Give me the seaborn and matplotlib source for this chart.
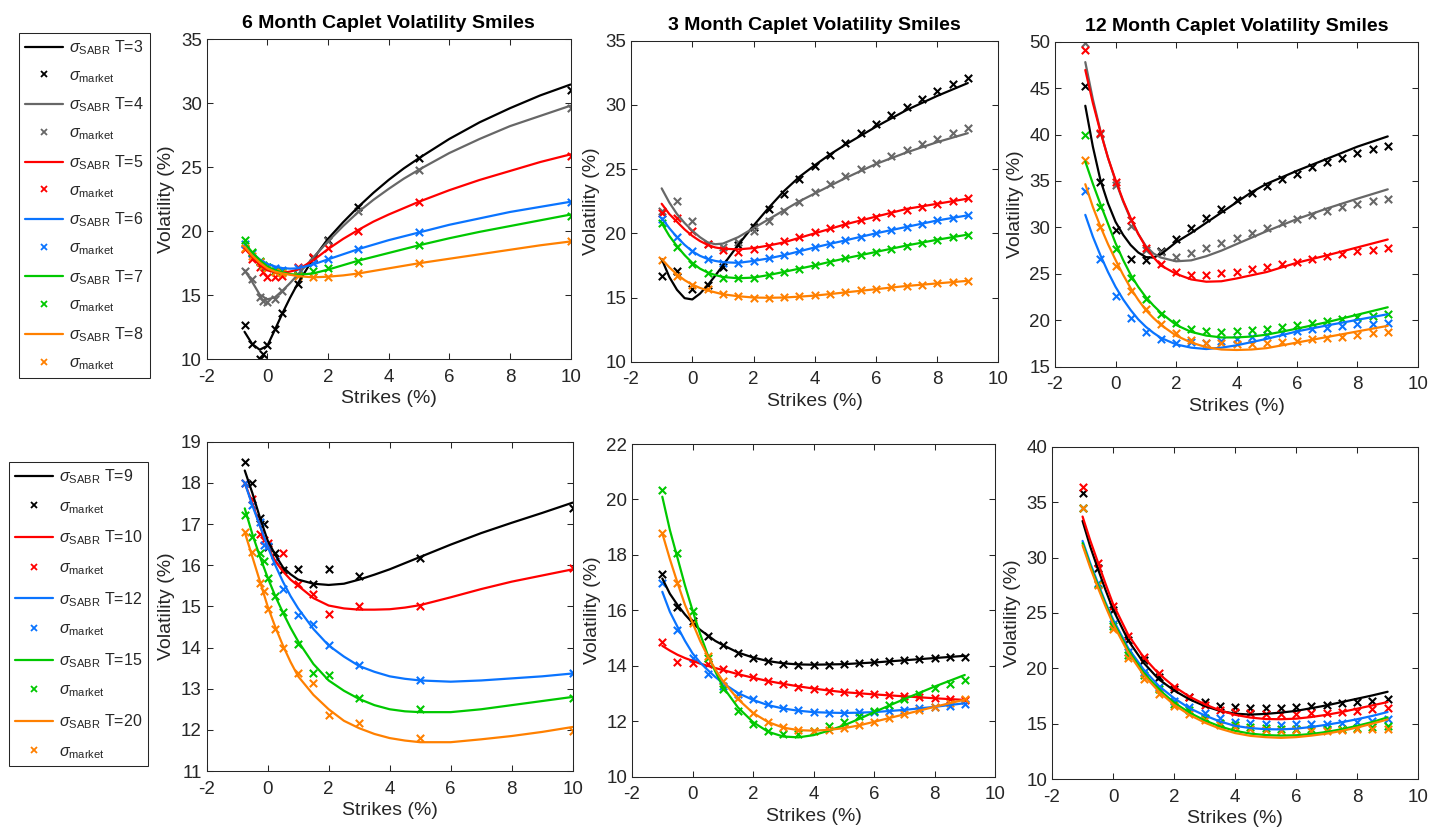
import matplotlib
matplotlib.use("Agg")
import matplotlib.pyplot as plt
from matplotlib.lines import Line2D
import pandas as pd
import seaborn as sns

# ---------------------------------------------------------------- data
# 6 month caplets (top left)
strikes_6m = [-0.75, -0.5, -0.25, -0.125, 0, 0.25, 0.5, 1, 1.5, 2, 3, 5, 10]
mkt_6m_t3 = [12.7, 11.2, 10.0, 10.4, 11.1, 12.4, 13.6, 15.9, 17.9, 19.3, 21.9, 25.7, 31.0]
mkt_6m_t4 = [16.9, 16.3, 14.9, 14.55, 14.5, 14.7, 15.3, 16.6, 18.0, 19.2, 21.6, 24.8, 29.6]
mkt_6m_t5 = [18.6, 17.8, 17.2, 16.8, 16.4, 16.45, 16.5, 17.2, 18.0, 18.7, 20.0, 22.3, 25.9]
mkt_6m_t6 = [19.0, 18.3, 17.6, 17.3, 17.2, 17.1, 17.0, 17.1, 17.5, 17.8, 18.6, 19.9, 22.3]
mkt_6m_t7 = [19.3, 18.4, 17.7, 17.4, 17.2, 16.9, 16.8, 16.6, 16.9, 17.1, 17.7, 18.9, 21.2]
mkt_6m_t8 = [18.7, 18.1, 17.6, 17.3, 17.1, 16.8, 16.7, 16.5, 16.4, 16.4, 16.7, 17.5, 19.2]

grid_6m = [-0.75, -0.5, -0.25, 0, 0.25, 0.5, 0.75, 1, 1.5, 2, 2.5, 3, 3.5, 4, 4.5, 5, 6, 7, 8, 9, 10]
sabr_6m_t3 = [12.15, 11.2, 10.75, 11.05, 12.3, 13.6, 14.8, 15.9, 17.8, 19.4, 20.7, 21.9, 23.0, 24.0, 24.9, 25.7, 27.2, 28.5, 29.6, 30.6, 31.45]
sabr_6m_t4 = [16.95, 16.05, 15.05, 14.68, 14.84, 15.36, 15.95, 16.6, 17.9, 19.2, 20.4, 21.5, 22.45, 23.3, 24.1, 24.8, 26.1, 27.2, 28.2, 29.0, 29.8]
sabr_6m_t5 = [18.7, 18.0, 17.35, 16.95, 16.8, 16.75, 16.85, 17.0, 17.7, 18.6, 19.4, 20.1, 20.75, 21.3, 21.8, 22.3, 23.2, 24.0, 24.7, 25.4, 26.0]
sabr_6m_t6 = [19.0, 18.3, 17.8, 17.45, 17.25, 17.12, 17.08, 17.1, 17.4, 17.8, 18.2, 18.6, 18.95, 19.3, 19.6, 19.9, 20.5, 21.0, 21.5, 21.9, 22.3]
sabr_6m_t7 = [19.1, 18.35, 17.75, 17.25, 16.95, 16.78, 16.65, 16.6, 16.7, 17.0, 17.35, 17.7, 18.0, 18.3, 18.6, 18.9, 19.45, 19.95, 20.4, 20.85, 21.3]
sabr_6m_t8 = [18.8, 18.1, 17.55, 17.1, 16.85, 16.7, 16.6, 16.5, 16.4, 16.45, 16.55, 16.7, 16.9, 17.1, 17.3, 17.5, 17.85, 18.2, 18.55, 18.9, 19.2]

# 3 month caplets (top middle)
strikes_3m = [-1, -0.5, 0, 0.5, 1, 1.5, 2, 2.5, 3, 3.5, 4, 4.5, 5, 5.5, 6, 6.5, 7, 7.5, 8, 8.5, 9]
mkt_3m_t3 = [16.67, 17.06, 15.63, 15.97, 17.4, 19.09, 20.46, 21.86, 23.06, 24.2, 25.24, 26.12, 27.0, 27.78, 28.5, 29.18, 29.86, 30.46, 31.08, 31.62, 32.12]
mkt_3m_t4 = [21.7, 22.54, 20.95, 19.2, 18.96, 19.34, 20.2, 20.93, 21.73, 22.46, 23.19, 23.84, 24.43, 24.98, 25.5, 26.02, 26.51, 26.95, 27.37, 27.78, 28.17]
mkt_3m_t5 = [21.6, 21.2, 20.2, 19.16, 18.7, 18.57, 18.75, 19.03, 19.4, 19.71, 20.07, 20.41, 20.72, 21.03, 21.29, 21.55, 21.81, 22.07, 22.31, 22.51, 22.72]
mkt_3m_t6 = [21.1, 19.7, 18.6, 18.0, 17.7, 17.7, 17.85, 18.05, 18.3, 18.6, 18.9, 19.2, 19.45, 19.75, 20.0, 20.25, 20.5, 20.75, 21.0, 21.2, 21.4]
mkt_3m_t7 = [20.8, 18.9, 17.6, 16.9, 16.55, 16.5, 16.55, 16.75, 17.0, 17.2, 17.5, 17.8, 18.05, 18.3, 18.55, 18.8, 19.0, 19.25, 19.5, 19.7, 19.9]
mkt_3m_t8 = [17.95, 16.7, 16.0, 15.65, 15.3, 15.1, 15.0, 15.0, 15.05, 15.1, 15.2, 15.3, 15.45, 15.55, 15.7, 15.8, 15.9, 16.0, 16.1, 16.2, 16.3]

grid_3m = [-1, -0.75, -0.5, -0.25, 0, 0.25, 0.5, 0.75, 1, 1.5, 2, 2.5, 3, 3.5, 4, 4.5, 5, 6, 7, 8, 9]
sabr_3m_t3 = [18.0, 16.6, 15.6, 14.95, 14.85, 15.3, 15.95, 16.7, 17.5, 19.1, 20.6, 22.0, 23.3, 24.4, 25.3, 26.15, 26.9, 28.3, 29.6, 30.7, 31.7]
sabr_3m_t4 = [23.5, 22.4, 21.5, 20.8, 20.2, 19.7, 19.3, 19.15, 19.2, 19.7, 20.4, 21.1, 21.8, 22.5, 23.1, 23.7, 24.3, 25.4, 26.3, 27.1, 27.8]
sabr_3m_t5 = [22.3, 21.5, 20.9, 20.3, 19.8, 19.4, 19.1, 18.9, 18.8, 18.75, 18.85, 19.05, 19.3, 19.65, 20.0, 20.35, 20.7, 21.3, 21.9, 22.3, 22.7]
sabr_3m_t6 = [21.2, 20.4, 19.7, 19.1, 18.6, 18.25, 18.0, 17.85, 17.75, 17.7, 17.85, 18.05, 18.3, 18.6, 18.9, 19.18, 19.45, 20.0, 20.5, 21.0, 21.4]
sabr_3m_t7 = [20.8, 19.8, 19.0, 18.3, 17.7, 17.25, 16.95, 16.75, 16.6, 16.5, 16.55, 16.75, 17.0, 17.25, 17.5, 17.78, 18.05, 18.55, 19.05, 19.5, 19.9]
sabr_3m_t8 = [18.0, 17.35, 16.8, 16.35, 16.0, 15.75, 15.55, 15.4, 15.25, 15.1, 15.0, 14.98, 15.0, 15.07, 15.15, 15.27, 15.4, 15.65, 15.9, 16.1, 16.3]

# 12 month caplets (top right)
strikes_12m = strikes_3m
mkt_12m_t3 = [45.2, 34.9, 29.7, 26.6, 26.5, 27.5, 28.7, 29.9, 31.0, 32.0, 32.9, 33.7, 34.5, 35.2, 35.8, 36.5, 37.0, 37.5, 38.0, 38.4, 38.8]
mkt_12m_t4 = [49.9, 40.1, 34.6, 30.1, 27.6, 27.4, 26.8, 27.2, 27.75, 28.3, 28.85, 29.4, 29.95, 30.45, 30.9, 31.35, 31.75, 32.15, 32.5, 32.8, 33.1]
mkt_12m_t5 = [49.1, 40.2, 34.9, 30.8, 27.75, 26.06, 25.2, 24.9, 24.9, 25.05, 25.2, 25.48, 25.73, 26.02, 26.31, 26.6, 26.88, 27.14, 27.42, 27.6, 27.82]
mkt_12m_t6 = [33.9, 26.6, 22.6, 20.2, 18.7, 17.95, 17.6, 17.66, 17.6, 17.8, 17.95, 18.23, 18.41, 18.59, 18.84, 19.02, 19.2, 19.38, 19.56, 19.6, 19.74]
mkt_12m_t7 = [39.9, 32.2, 27.7, 24.5, 22.3, 20.7, 19.67, 19.06, 18.84, 18.74, 18.81, 18.95, 19.1, 19.31, 19.53, 19.74, 19.96, 20.14, 20.35, 20.5, 20.64]
mkt_12m_t8 = [37.3, 30.0, 25.8, 23.1, 21.2, 19.6, 18.6, 17.88, 17.59, 17.52, 17.44, 17.44, 17.59, 17.66, 17.8, 17.95, 18.13, 18.23, 18.45, 18.59, 18.74]

grid_12m = [-1, -0.75, -0.5, -0.25, 0, 0.25, 0.5, 0.75, 1, 1.25, 1.5, 2, 2.5, 3, 3.5, 4, 4.5, 5, 6, 7, 8, 9]
sabr_12m_t3 = [43.1, 38.7, 35.1, 32.6, 30.6, 29.2, 28.1, 27.3, 26.8, 26.75, 27.1, 28.4, 29.4, 30.5, 31.6, 32.7, 33.8, 34.7, 36.1, 37.4, 38.7, 39.8]
sabr_12m_t4 = [47.8, 43.8, 40.4, 37.5, 35.0, 32.8, 30.9, 29.3, 28.0, 27.2, 26.75, 26.35, 26.45, 26.9, 27.5, 28.2, 28.9, 29.6, 30.9, 32.05, 33.1, 34.1]
sabr_12m_t5 = [46.95, 43.4, 40.3, 37.5, 35.1, 32.9, 31.0, 29.3, 27.9, 26.8, 25.9, 25.0, 24.4, 24.15, 24.2, 24.5, 24.85, 25.2, 26.2, 27.0, 27.85, 28.7]
sabr_12m_t6 = [31.35, 29.0, 27.0, 25.2, 23.6, 22.25, 21.1, 20.1, 19.3, 18.65, 18.1, 17.4, 17.05, 16.9, 17.05, 17.3, 17.65, 18.0, 18.8, 19.45, 20.05, 20.65]
sabr_12m_t7 = [37.1, 34.7, 32.5, 30.4, 28.3, 26.5, 24.9, 23.6, 22.5, 21.6, 20.8, 19.5, 18.75, 18.35, 18.15, 18.15, 18.25, 18.45, 19.1, 19.8, 20.6, 21.4]
sabr_12m_t8 = [34.65, 32.2, 30.1, 28.2, 26.5, 24.9, 23.45, 22.2, 21.1, 20.25, 19.5, 18.35, 17.6, 17.1, 16.85, 16.8, 16.85, 17.0, 17.6, 18.2, 18.8, 19.4]

# longer maturities, 6 month caplets (bottom left)
strikes_b6m = strikes_6m
mkt_b6m_t9 = [18.51, 18.0, 17.14, 17.0, 16.45, 16.3, 15.88, 15.9, 15.54, 15.9, 15.74, 16.18, 17.38]
mkt_b6m_t10 = [18.0, 17.62, 16.75, 16.6, 16.55, 16.1, 16.3, 15.54, 15.29, 14.81, 15.0, 15.0, 15.94]
mkt_b6m_t12 = [18.0, 17.46, 17.06, 16.49, 16.47, 16.09, 15.41, 14.8, 14.58, 14.06, 13.57, 13.22, 13.39]
mkt_b6m_t15 = [17.22, 16.69, 16.3, 16.11, 15.68, 15.25, 14.87, 14.09, 13.39, 13.33, 12.78, 12.5, 12.78]
mkt_b6m_t20 = [16.81, 16.31, 15.57, 15.38, 14.93, 14.44, 13.98, 13.37, 13.13, 12.36, 12.16, 11.81, 11.98]

grid_b6m = [-0.75, -0.5, -0.25, 0, 0.25, 0.5, 0.75, 1, 1.5, 2, 2.5, 3, 3.5, 4, 4.5, 5, 6, 7, 8, 9, 10]
sabr_b6m_t9 = [18.3, 17.75, 17.15, 16.6, 16.25, 15.95, 15.78, 15.65, 15.55, 15.52, 15.55, 15.65, 15.77, 15.9, 16.05, 16.2, 16.5, 16.78, 17.03, 17.27, 17.52]
sabr_b6m_t10 = [18.0, 17.5, 16.95, 16.45, 16.1, 15.85, 15.65, 15.5, 15.2, 15.02, 14.95, 14.92, 14.92, 14.93, 14.97, 15.03, 15.22, 15.42, 15.6, 15.75, 15.9]
sabr_b6m_t12 = [18.0, 17.45, 16.95, 16.45, 16.0, 15.6, 15.25, 14.95, 14.45, 14.05, 13.78, 13.55, 13.41, 13.3, 13.24, 13.2, 13.17, 13.2, 13.25, 13.3, 13.37]
sabr_b6m_t15 = [17.38, 16.75, 16.2, 15.7, 15.25, 14.85, 14.48, 14.15, 13.6, 13.2, 12.95, 12.75, 12.6, 12.5, 12.45, 12.43, 12.43, 12.5, 12.6, 12.7, 12.8]
sabr_b6m_t20 = [16.8, 16.2, 15.6, 15.0, 14.5, 14.05, 13.65, 13.3, 12.85, 12.5, 12.22, 12.04, 11.9, 11.8, 11.74, 11.7, 11.7, 11.77, 11.85, 11.95, 12.07]

# longer maturities, 3 month caplets (bottom middle)
strikes_b3m = strikes_3m
mkt_b3m_t9 = [17.3, 16.13, 15.6, 15.07, 14.75, 14.47, 14.3, 14.17, 14.06, 14.02, 14.02, 14.03, 14.05, 14.09, 14.12, 14.17, 14.21, 14.26, 14.29, 14.33, 14.33]
mkt_b3m_t10 = [14.87, 14.15, 14.1, 14.05, 13.9, 13.75, 13.6, 13.45, 13.33, 13.22, 13.15, 13.1, 13.05, 13.02, 12.98, 12.95, 12.92, 12.88, 12.85, 12.8, 12.78]
mkt_b3m_t12 = [17.0, 15.29, 14.3, 13.7, 13.28, 13.0, 12.79, 12.62, 12.49, 12.41, 12.35, 12.31, 12.31, 12.32, 12.35, 12.37, 12.41, 12.47, 12.53, 12.56, 12.61]
mkt_b3m_t15 = [20.34, 18.06, 15.98, 14.3, 13.15, 12.37, 11.9, 11.65, 11.54, 11.54, 11.66, 11.83, 11.96, 12.19, 12.38, 12.59, 12.79, 12.98, 13.19, 13.33, 13.49]
mkt_b3m_t20 = [18.8, 16.97, 15.53, 14.35, 13.46, 12.83, 12.31, 11.98, 11.78, 11.68, 11.66, 11.68, 11.74, 11.86, 11.98, 12.13, 12.25, 12.41, 12.53, 12.65, 12.8]

grid_b3m = [-1, -0.75, -0.5, -0.25, 0, 0.25, 0.5, 0.75, 1, 1.5, 2, 2.5, 3, 3.5, 4, 4.5, 5, 5.5, 6, 7, 8, 9]
sabr_b3m_t9 = [17.15, 16.6, 16.2, 15.85, 15.55, 15.3, 15.1, 14.9, 14.75, 14.48, 14.3, 14.17, 14.09, 14.05, 14.04, 14.05, 14.06, 14.09, 14.12, 14.2, 14.28, 14.36]
sabr_b3m_t10 = [14.72, 14.55, 14.4, 14.28, 14.18, 14.08, 14.0, 13.92, 13.85, 13.7, 13.57, 13.45, 13.35, 13.26, 13.18, 13.11, 13.05, 13.01, 12.97, 12.9, 12.83, 12.77]
sabr_b3m_t12 = [16.67, 15.95, 15.41, 14.9, 14.45, 14.12, 13.85, 13.6, 13.38, 13.02, 12.77, 12.58, 12.46, 12.38, 12.33, 12.31, 12.3, 12.31, 12.33, 12.41, 12.52, 12.65]
sabr_b3m_t15 = [20.1, 18.9, 17.9, 16.9, 16.0, 15.15, 14.4, 13.8, 13.25, 12.5, 11.97, 11.62, 11.45, 11.42, 11.5, 11.66, 11.85, 12.08, 12.33, 12.8, 13.25, 13.67]
sabr_b3m_t20 = [18.78, 17.85, 17.0, 16.2, 15.55, 14.9, 14.35, 13.88, 13.45, 12.8, 12.3, 11.97, 11.77, 11.68, 11.66, 11.69, 11.75, 11.85, 11.98, 12.25, 12.52, 12.78]

# longer maturities, 12 month caplets (bottom right)
strikes_b12m = strikes_3m
mkt_b12m_t9 = [35.85, 29.02, 25.25, 22.55, 20.74, 19.24, 18.09, 17.37, 16.92, 16.62, 16.53, 16.44, 16.44, 16.44, 16.53, 16.62, 16.68, 16.83, 16.92, 17.07, 17.19]
mkt_b12m_t10 = [36.39, 29.53, 25.65, 22.91, 21.04, 19.54, 18.33, 17.37, 16.68, 16.23, 16.08, 15.93, 15.87, 15.87, 15.87, 15.93, 15.99, 16.08, 16.17, 16.29, 16.38]
mkt_b12m_t12 = [34.49, 27.66, 23.99, 21.46, 19.69, 18.33, 17.0, 16.47, 15.92, 15.53, 15.17, 15.02, 14.96, 14.87, 14.93, 14.93, 14.96, 15.08, 15.17, 15.23, 15.38]
mkt_b12m_t15 = [34.49, 27.6, 23.8, 21.2, 19.4, 18.1, 16.8, 16.2, 15.5, 15.1, 14.9, 14.7, 14.6, 14.5, 14.5, 14.55, 14.5, 14.55, 14.6, 14.7, 14.8]
mkt_b12m_t20 = [34.49, 27.5, 23.57, 20.89, 18.99, 17.67, 16.59, 15.84, 15.32, 14.87, 14.66, 14.51, 14.42, 14.36, 14.42, 14.36, 14.36, 14.42, 14.48, 14.54, 14.54]

grid_b12m = [-1, -0.75, -0.5, -0.25, 0, 0.5, 1, 1.5, 2, 2.5, 3, 3.5, 4, 4.5, 5, 5.5, 6, 6.5, 7, 7.5, 8, 8.5, 9]
sabr_b12m_t9 = [33.3, 31.0, 29.0, 27.1, 25.3, 22.5, 20.5, 19.0, 18.0, 17.2, 16.6, 16.15, 15.9, 15.82, 15.88, 16.0, 16.15, 16.4, 16.65, 16.95, 17.25, 17.55, 17.88]
sabr_b12m_t10 = [33.7, 31.55, 29.6, 27.65, 25.8, 23.0, 21.0, 19.5, 18.35, 17.45, 16.75, 16.2, 15.8, 15.55, 15.42, 15.4, 15.45, 15.6, 15.8, 16.05, 16.35, 16.65, 16.95]
sabr_b12m_t12 = [31.5, 29.5, 27.7, 25.95, 24.4, 21.8, 19.9, 18.4, 17.3, 16.4, 15.75, 15.2, 14.8, 14.6, 14.5, 14.48, 14.55, 14.7, 14.9, 15.13, 15.4, 15.7, 16.05]
sabr_b12m_t15 = [31.3, 29.3, 27.5, 25.8, 24.2, 21.6, 19.6, 18.1, 16.9, 16.0, 15.3, 14.75, 14.35, 14.1, 13.97, 13.92, 13.95, 14.07, 14.25, 14.5, 14.8, 15.15, 15.57]
sabr_b12m_t20 = [31.1, 29.1, 27.3, 25.6, 24.0, 21.4, 19.4, 17.9, 16.7, 15.8, 15.1, 14.55, 14.15, 13.9, 13.78, 13.72, 13.78, 13.92, 14.1, 14.35, 14.65, 15.0, 15.38]

# maturities and colours of the two rows
maturities_top = [3, 4, 5, 6, 7, 8]
colors_top = ["#000000", "#676767", "#ff0000", "#0a74ff", "#00c800", "#ff8000"]
maturities_bottom = [9, 10, 12, 15, 20]
colors_bottom = ["#000000", "#ff0000", "#0a74ff", "#00c800", "#ff8000"]

# ---------------------------------------------------------------- style
sns.set_style("ticks")
plt.rcParams.update({
    "font.family": ["Liberation Sans", "DejaVu Sans"],
    "mathtext.fontset": "custom",
    "mathtext.rm": "Liberation Sans",
    "mathtext.it": "Liberation Sans:italic",
    "mathtext.bf": "Liberation Sans:bold",
    "axes.unicode_minus": False,
    "axes.edgecolor": "#262626",
    "axes.linewidth": 0.75,
    "xtick.color": "#262626",
    "ytick.color": "#262626",
    "xtick.labelcolor": "#262626",
    "ytick.labelcolor": "#262626",
    "axes.labelcolor": "#262626",
    "lines.solid_joinstyle": "round",
})

fig = plt.figure(figsize=(14.3, 8.27), dpi=100)

panels = [
    dict(rect=[0.1445, 0.5655, 0.2545, 0.3873], title="6 Month Caplet Volatility Smiles",
         ylim=(10, 35), yticks=range(10, 36, 5), strikes=strikes_6m, grid=grid_6m,
         mats=maturities_top, colors=colors_top,
         mkt=[mkt_6m_t3, mkt_6m_t4, mkt_6m_t5, mkt_6m_t6, mkt_6m_t7, mkt_6m_t8],
         sabr=[sabr_6m_t3, sabr_6m_t4, sabr_6m_t5, sabr_6m_t6, sabr_6m_t7, sabr_6m_t8]),
    dict(rect=[0.4413, 0.5626, 0.2569, 0.3882], title="3 Month Caplet Volatility Smiles",
         ylim=(10, 35), yticks=range(10, 36, 5), strikes=strikes_3m, grid=grid_3m,
         mats=maturities_top, colors=colors_top,
         mkt=[mkt_3m_t3, mkt_3m_t4, mkt_3m_t5, mkt_3m_t6, mkt_3m_t7, mkt_3m_t8],
         sabr=[sabr_3m_t3, sabr_3m_t4, sabr_3m_t5, sabr_3m_t6, sabr_3m_t7, sabr_3m_t8]),
    dict(rect=[0.7378, 0.5566, 0.2538, 0.3930], title="12 Month Caplet Volatility Smiles",
         ylim=(15, 50), yticks=range(15, 51, 5), strikes=strikes_12m, grid=grid_12m,
         mats=maturities_top, colors=colors_top,
         mkt=[mkt_12m_t3, mkt_12m_t4, mkt_12m_t5, mkt_12m_t6, mkt_12m_t7, mkt_12m_t8],
         sabr=[sabr_12m_t3, sabr_12m_t4, sabr_12m_t5, sabr_12m_t6, sabr_12m_t7, sabr_12m_t8]),
    dict(rect=[0.1445, 0.0677, 0.2560, 0.3982], title=None,
         ylim=(11, 19), yticks=range(11, 20), strikes=strikes_b6m, grid=grid_b6m,
         mats=maturities_bottom, colors=colors_bottom,
         mkt=[mkt_b6m_t9, mkt_b6m_t10, mkt_b6m_t12, mkt_b6m_t15, mkt_b6m_t20],
         sabr=[sabr_b6m_t9, sabr_b6m_t10, sabr_b6m_t12, sabr_b6m_t15, sabr_b6m_t20]),
    dict(rect=[0.4420, 0.0608, 0.2538, 0.4023], title=None,
         ylim=(10, 22), yticks=range(10, 23, 2), strikes=strikes_b3m, grid=grid_b3m,
         mats=maturities_bottom, colors=colors_bottom,
         mkt=[mkt_b3m_t9, mkt_b3m_t10, mkt_b3m_t12, mkt_b3m_t15, mkt_b3m_t20],
         sabr=[sabr_b3m_t9, sabr_b3m_t10, sabr_b3m_t12, sabr_b3m_t15, sabr_b3m_t20]),
    dict(rect=[0.7357, 0.0580, 0.2560, 0.4018], title=None,
         ylim=(10, 40), yticks=range(10, 41, 5), strikes=strikes_b12m, grid=grid_b12m,
         mats=maturities_bottom, colors=colors_bottom,
         mkt=[mkt_b12m_t9, mkt_b12m_t10, mkt_b12m_t12, mkt_b12m_t15, mkt_b12m_t20],
         sabr=[sabr_b12m_t9, sabr_b12m_t10, sabr_b12m_t12, sabr_b12m_t15, sabr_b12m_t20]),
]

for p in panels:
    ax = fig.add_axes(p["rect"])
    for mat, col, mkt, sabr in zip(p["mats"], p["colors"], p["mkt"], p["sabr"]):
        curve = pd.DataFrame({"strike": p["grid"], "vol": sabr})
        points = pd.DataFrame({"strike": p["strikes"], "vol": mkt})
        sns.lineplot(data=curve, x="strike", y="vol", ax=ax, color=col,
                     linewidth=1.6, estimator=None, sort=False, legend=False)
        sns.scatterplot(data=points, x="strike", y="vol", ax=ax, color=col,
                        marker="x", s=28, linewidth=1.5, legend=False)
    ax.set_xlim(-2, 10)
    ax.set_xticks(range(-2, 11, 2))
    ax.set_ylim(*p["ylim"])
    ax.set_yticks(list(p["yticks"]))
    ax.tick_params(direction="in", top=True, right=True, length=4, width=0.75,
                   labelsize=13.5)
    ax.tick_params(axis="x", pad=7)
    for s in ax.spines.values():
        s.set_visible(True)
        s.set_linewidth(0.75)
        s.set_color("#262626")
    ax.set_xlabel("Strikes (%)", fontsize=14, labelpad=3)
    ax.set_ylabel("Volatility (%)", fontsize=14)
    if p["title"]:
        ax.set_title(p["title"], fontsize=14, fontweight="bold", color="black", pad=8)


def legend_entries(mats, colors):
    handles, labels = [], []
    for mat, col in zip(mats, colors):
        handles.append(Line2D([], [], color=col, linewidth=1.6))
        labels.append(r"$\sigma_{\mathrm{SABR}}$ T=%d" % mat)
        handles.append(Line2D([], [], color=col, linestyle="none", marker="x",
                              markersize=4, markeredgewidth=1.3))
        labels.append(r"$\sigma_{\mathrm{market}}$")
    return handles, labels


for mats, cols, anchor, spacing in [
    (maturities_top, colors_top, (19 / 1430, 1 - 32.7 / 827), 0.69),
    (maturities_bottom, colors_bottom, (9 / 1430, 1 - 461.7 / 827), 0.81),
]:
    h, l = legend_entries(mats, cols)
    leg = fig.legend(h, l, loc="upper left", bbox_to_anchor=anchor, borderaxespad=0,
                     fontsize=11.5, frameon=True, fancybox=False, framealpha=1,
                     edgecolor="#262626", handlelength=2.4, handletextpad=0.4,
                     labelspacing=spacing, borderpad=0.35)
    leg.get_frame().set_linewidth(0.75)

fig.savefig("out.png", dpi=100)
